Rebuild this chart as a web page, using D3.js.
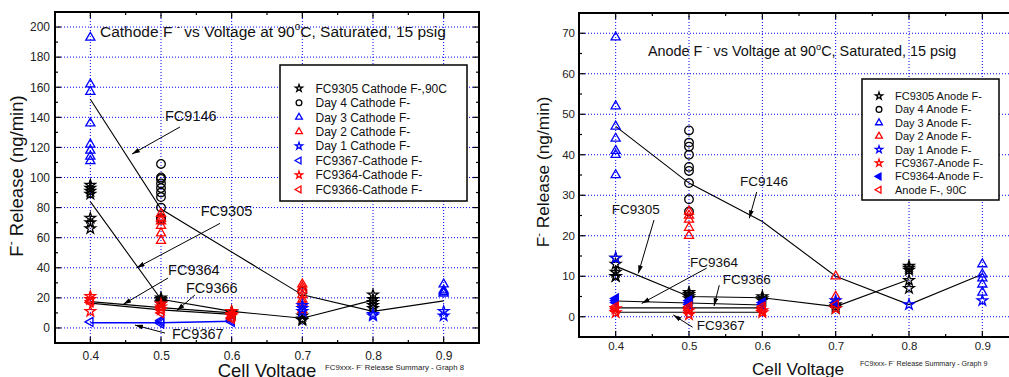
<!DOCTYPE html>
<html>
<head>
<meta charset="utf-8">
<script src="https://cdn.jsdelivr.net/npm/d3@7"></script>
<style>
  body { margin: 0; background: #fff; }
  svg { display: block; font-family: "Liberation Sans", Arial, sans-serif; }
</style>
</head>
<body>
<svg id="chart" width="1009" height="377"></svg>
<script>
// ---------- shared axis values ----------
const voltageTicks = [0.4, 0.5, 0.6, 0.7, 0.8, 0.9];
const cathodeYTicks = [0, 20, 40, 60, 80, 100, 120, 140, 160, 180, 200];
const anodeYTicks = [0, 10, 20, 30, 40, 50, 60, 70];

// ---------- cathode F- release, [cell voltage, ng/min] ----------
const cathodeFC9305 = [[0.4, 95], [0.4, 93], [0.4, 91], [0.4, 89], [0.4, 73], [0.4, 70], [0.4, 66],
  [0.5, 20], [0.5, 19], [0.5, 18], [0.5, 17], [0.5, 16],
  [0.6, 11], [0.6, 10], [0.6, 9],
  [0.7, 8], [0.7, 6], [0.7, 5],
  [0.8, 22], [0.8, 19], [0.8, 17], [0.8, 15], [0.8, 13]];
const cathodeDay4 = [[0.5, 109], [0.5, 100], [0.5, 99], [0.5, 96], [0.5, 93], [0.5, 90], [0.5, 87],
  [0.5, 80], [0.5, 73], [0.5, 72], [0.7, 24]];
const cathodeDay3 = [[0.4, 193], [0.4, 162], [0.4, 157], [0.4, 136], [0.4, 122], [0.4, 118], [0.4, 114],
  [0.4, 111], [0.9, 29], [0.9, 25], [0.9, 24], [0.9, 23]];
const cathodeDay2 = [[0.5, 76], [0.5, 73], [0.5, 71], [0.5, 68], [0.5, 63], [0.5, 58],
  [0.7, 29], [0.7, 27], [0.7, 25], [0.7, 22], [0.7, 19], [0.7, 17], [0.7, 12]];
const cathodeDay1 = [[0.7, 15], [0.7, 13], [0.7, 11], [0.8, 9], [0.8, 8], [0.9, 11], [0.9, 8]];
const cathodeFC9367 = [[0.4, 4], [0.5, 5], [0.5, 4], [0.5, 3], [0.6, 6], [0.6, 5], [0.6, 4]];
const cathodeFC9364 = [[0.4, 21], [0.4, 19], [0.4, 11], [0.5, 16], [0.5, 14], [0.5, 12],
  [0.6, 11], [0.6, 9], [0.6, 8]];
const cathodeFC9366 = [[0.4, 18], [0.4, 17], [0.5, 14], [0.5, 12], [0.5, 10], [0.6, 9], [0.6, 7], [0.6, 6]];

// cathode trend lines
const cathodeTrendFC9146 = [[0.4, 152], [0.5, 79], [0.7, 22], [0.8, 11], [0.9, 18]];
const cathodeTrendFC9305 = [[0.4, 84], [0.5, 19], [0.6, 11], [0.7, 6.5], [0.8, 18.5]];
const cathodeTrendFC9364 = [[0.4, 17.5], [0.5, 13.5], [0.6, 10]];
const cathodeTrendFC9366 = [[0.4, 16.5], [0.5, 12], [0.6, 9]];
const cathodeTrendFC9367 = [[0.4, 3.5], [0.5, 3.5], [0.6, 4.5]];

// ---------- anode F- release, [cell voltage, ng/min] ----------
const anodeFC9305 = [[0.4, 14.5], [0.4, 13], [0.4, 11], [0.4, 10], [0.4, 10],
  [0.5, 6], [0.5, 5.5], [0.5, 5], [0.5, 4.5],
  [0.6, 5], [0.6, 4.5], [0.6, 4],
  [0.7, 3], [0.7, 2.5], [0.7, 2],
  [0.8, 12.5], [0.8, 12], [0.8, 11.5], [0.8, 9], [0.8, 7]];
const anodeDay4 = [[0.5, 46], [0.5, 43], [0.5, 42], [0.5, 40], [0.5, 37], [0.5, 36], [0.5, 33],
  [0.5, 29], [0.5, 26]];
const anodeDay3 = [[0.4, 69], [0.4, 52], [0.4, 47], [0.4, 44], [0.4, 41], [0.4, 40], [0.4, 35],
  [0.9, 13], [0.9, 10.5], [0.9, 9.5], [0.9, 8], [0.9, 6]];
const anodeDay2 = [[0.5, 26], [0.5, 25], [0.5, 24], [0.5, 22], [0.5, 20], [0.7, 10], [0.7, 5]];
const anodeDay1 = [[0.4, 14.5], [0.7, 4], [0.8, 3], [0.9, 4]];
const anodeFC9367 = [[0.4, 2], [0.4, 1], [0.5, 1.5], [0.5, 0.5], [0.6, 1.5], [0.6, 1], [0.7, 2]];
const anodeFC9364 = [[0.4, 4.5], [0.4, 4], [0.4, 3.5], [0.5, 4], [0.5, 3.5], [0.5, 3],
  [0.6, 3.5], [0.6, 3], [0.7, 3.5]];
const anodeFC90C = [[0.4, 2.5], [0.4, 2], [0.4, 1.5], [0.5, 2.5], [0.5, 2], [0.5, 1.5],
  [0.6, 2.5], [0.6, 2], [0.6, 1.5], [0.7, 3]];

// anode trend lines
const anodeTrendFC9146 = [[0.4, 47], [0.5, 33], [0.6, 23.5], [0.7, 10], [0.8, 3], [0.9, 10.5]];
const anodeTrendFC9305 = [[0.4, 12.5], [0.5, 5], [0.6, 4.7], [0.7, 2.5], [0.8, 9.2]];
const anodeTrendFC9364 = [[0.4, 3.9], [0.5, 3.4], [0.6, 2.9]];
const anodeTrendFC9366 = [[0.4, 2.2], [0.5, 2.2], [0.6, 2.2]];
const anodeTrendFC9367 = [[0.4, 1.1], [0.5, 1.1], [0.6, 1.1]];

// ---------- drawing ----------
const BLUE = "#0000ff", RED = "#ff0000", BLACK = "#000000";

// triangle pointing left, same proportions as d3.symbolTriangle
const symbolTriangleLeft = {
  draw(ctx, size) {
    const h = Math.sqrt(size / (Math.sqrt(3) * 3));
    ctx.moveTo(-2 * h, 0);
    ctx.lineTo(h, -Math.sqrt(3) * h);
    ctx.lineTo(h, Math.sqrt(3) * h);
    ctx.closePath();
  }
};
const shapes = {
  star: { type: d3.symbolStar, size: 34, legendSize: 16 },
  circle: { type: d3.symbolCircle, size: 58, legendSize: 26 },
  triangle: { type: d3.symbolTriangle, size: 36, legendSize: 20 },
  triLeft: { type: symbolTriangleLeft, size: 36, legendSize: 20 }
};

const svg = d3.select("#chart");
const defs = svg.append("defs");
defs.append("marker")
  .attr("id", "arrow")
  .attr("viewBox", "0 0 10 6")
  .attr("refX", 10).attr("refY", 3)
  .attr("markerWidth", 8).attr("markerHeight", 5)
  .attr("markerUnits", "userSpaceOnUse")
  .attr("orient", "auto")
  .append("path").attr("d", "M0,0L10,3L0,6Z").attr("fill", BLACK);

// writes text made of plain and superscript segments
function richText(sel, parts, fontSize) {
  let raised = 0;
  parts.forEach(p => {
    const span = sel.append("tspan");
    if (p.sup) {
      const lift = fontSize * 0.42;
      span.attr("font-size", fontSize * 0.65).attr("dy", -lift + raised).text(p.sup);
      raised = lift;
    } else {
      if (raised) span.attr("dy", raised);
      raised = 0;
      span.text(p.t);
    }
  });
}

function drawPanel(cfg) {
  const g = svg.append("g");
  const x = d3.scaleLinear().domain(cfg.xDomain).range([cfg.left, cfg.right]);
  const y = d3.scaleLinear().domain(cfg.yDomain).range([cfg.bottom, cfg.top]);

  // dotted grid
  const grid = g.append("g").attr("stroke", BLUE).attr("stroke-width", 1).attr("stroke-dasharray", "1,2");
  voltageTicks.forEach(v => grid.append("line")
    .attr("x1", x(v)).attr("x2", x(v)).attr("y1", cfg.top).attr("y2", cfg.bottom));
  cfg.yTicks.forEach(v => grid.append("line")
    .attr("y1", y(v)).attr("y2", y(v)).attr("x1", cfg.left).attr("x2", cfg.right));

  // trend lines
  const line = d3.line().x(d => x(d[0])).y(d => y(d[1]));
  cfg.trends.forEach(t => g.append("path")
    .attr("d", line(t.data)).attr("fill", "none")
    .attr("stroke", t.color).attr("stroke-width", t.width));

  // measured points
  cfg.series.forEach(s => {
    const sym = d3.symbol().type(shapes[s.shape].type).size(shapes[s.shape].size);
    g.append("g").selectAll("path").data(s.data).join("path")
      .attr("transform", d => `translate(${x(d[0])},${y(d[1])})`)
      .attr("d", sym)
      .attr("fill", s.filled ? s.color : "none")
      .attr("stroke", s.color).attr("stroke-width", 1.3);
  });

  // legend
  const L = cfg.legend;
  const lg = g.append("g");
  lg.append("rect").attr("x", L.x).attr("y", L.y).attr("width", L.w).attr("height", L.h)
    .attr("fill", "#fff").attr("stroke", BLACK).attr("stroke-width", 1.5);
  cfg.series.forEach((s, i) => {
    const cy = L.firstRow + i * L.rowStep;
    const sym = d3.symbol().type(shapes[s.shape].type).size(shapes[s.shape].legendSize);
    lg.append("path").attr("transform", `translate(${L.symX},${cy})`).attr("d", sym)
      .attr("fill", s.filled ? s.color : "none").attr("stroke", s.color).attr("stroke-width", 1.3);
    lg.append("text").attr("x", L.textX).attr("y", cy).attr("dy", "0.36em")
      .attr("font-size", L.fontSize).attr("fill", "#111").text(s.label);
  });

  // annotations with arrows
  cfg.notes.forEach(n => {
    g.append("text").attr("x", x(n.at[0])).attr("y", y(n.at[1]))
      .attr("font-size", cfg.noteFont).attr("fill", "#111").text(n.text);
    g.append("line")
      .attr("x1", x(n.from[0])).attr("y1", y(n.from[1]))
      .attr("x2", x(n.to[0])).attr("y2", y(n.to[1]))
      .attr("stroke", BLACK).attr("stroke-width", 1).attr("marker-end", "url(#arrow)");
  });

  // inward ticks on all four sides
  const xMinor = d3.range(cfg.xDomain[0], cfg.xDomain[1] + 1e-9, 0.1);
  const yMinor = d3.range(cfg.yTicks[0] - cfg.yMinorStep, cfg.yDomain[1] + 1e-9, cfg.yTicks[1] - cfg.yTicks[0]);
  const ticks = g.append("g").attr("stroke", BLACK).attr("stroke-width", 1.2);
  const addX = (vals, len) => vals.forEach(v => {
    ticks.append("line").attr("x1", x(v)).attr("x2", x(v)).attr("y1", cfg.bottom).attr("y2", cfg.bottom - len);
    ticks.append("line").attr("x1", x(v)).attr("x2", x(v)).attr("y1", cfg.top).attr("y2", cfg.top + len);
  });
  const addY = (vals, len) => vals.forEach(v => {
    if (v < cfg.yDomain[0] || v > cfg.yDomain[1]) return;
    ticks.append("line").attr("y1", y(v)).attr("y2", y(v)).attr("x1", cfg.left).attr("x2", cfg.left + len);
    ticks.append("line").attr("y1", y(v)).attr("y2", y(v)).attr("x1", cfg.right).attr("x2", cfg.right - len);
  });
  addX(voltageTicks, 6); addX(xMinor, 3);
  addY(cfg.yTicks, 6); addY(yMinor, 3);

  // frame
  g.append("rect").attr("x", cfg.left).attr("y", cfg.top)
    .attr("width", cfg.right - cfg.left).attr("height", cfg.bottom - cfg.top)
    .attr("fill", "none").attr("stroke", BLACK).attr("stroke-width", 2);

  // tick labels
  const xAxis = g.append("g").attr("transform", `translate(0,${cfg.bottom})`)
    .call(d3.axisBottom(x).tickValues(voltageTicks).tickFormat(d3.format(".1f"))
      .tickSize(0).tickPadding(cfg.xLabelPad));
  const yAxis = g.append("g").attr("transform", `translate(${cfg.left},0)`)
    .call(d3.axisLeft(y).tickValues(cfg.yTicks).tickFormat(d3.format("d"))
      .tickSize(0).tickPadding(cfg.yLabelPad));
  [xAxis, yAxis].forEach(a => {
    a.select(".domain").remove();
    a.selectAll("text").attr("font-size", cfg.tickFont).attr("fill", "#222")
      .attr("font-family", '"Liberation Sans", Arial, sans-serif');
  });

  // titles
  const title = g.append("text").attr("x", cfg.titleX).attr("y", cfg.titleY)
    .attr("font-size", cfg.titleFont).attr("fill", "#111");
  richText(title, [{ t: cfg.titleName + " F " }, { sup: "-" }, { t: " vs Voltage at 90" }, { sup: "o" },
    { t: "C, Saturated, 15 psig" }], cfg.titleFont);

  g.append("text").attr("x", cfg.xTitleX).attr("y", cfg.xTitleY).attr("text-anchor", "middle")
    .attr("font-size", cfg.axisTitleFont).attr("fill", "#111").text("Cell Voltage");

  const yt = g.append("text").attr("text-anchor", "middle")
    .attr("transform", `translate(${cfg.yTitleX},${cfg.yTitleY}) rotate(-90)`)
    .attr("font-size", cfg.axisTitleFont).attr("fill", "#111");
  richText(yt, [{ t: "F" }, { sup: "-" }, { t: " Release (ng/min)" }], cfg.axisTitleFont);

  const foot = g.append("text").attr("x", cfg.footX).attr("y", cfg.footY)
    .attr("font-size", cfg.footFont).attr("fill", "#222");
  richText(foot, [{ t: "FC9xxx- F" }, { sup: "-" }, { t: " Release Summary - " + cfg.footGraph }], cfg.footFont);
}

// cathode panel
drawPanel({
  left: 55, right: 479, top: 12, bottom: 343,
  xDomain: [0.35, 0.95], yDomain: [-10, 210],
  yTicks: cathodeYTicks, yMinorStep: 10,
  tickFont: 12, xLabelPad: 8.6, yLabelPad: 5,
  titleName: "Cathode", titleX: 100, titleY: 36.5, titleFont: 15.5,
  axisTitleFont: 18.5, xTitleX: 267, xTitleY: 376.5, yTitleX: 23, yTitleY: 176,
  footX: 325, footY: 370, footFont: 7.8, footGraph: "Graph 8",
  noteFont: 14.5,
  series: [
    { label: "FC9305 Cathode F-,90C", data: cathodeFC9305, shape: "star", color: BLACK },
    { label: "Day 4 Cathode F-", data: cathodeDay4, shape: "circle", color: BLACK },
    { label: "Day 3 Cathode F-", data: cathodeDay3, shape: "triangle", color: BLUE },
    { label: "Day 2 Cathode F-", data: cathodeDay2, shape: "triangle", color: RED },
    { label: "Day 1 Cathode F-", data: cathodeDay1, shape: "star", color: BLUE },
    { label: "FC9367-Cathode F-", data: cathodeFC9367, shape: "triLeft", color: BLUE },
    { label: "FC9364-Cathode F-", data: cathodeFC9364, shape: "star", color: RED },
    { label: "FC9366-Cathode F-", data: cathodeFC9366, shape: "triLeft", color: RED }
  ],
  trends: [
    { data: cathodeTrendFC9146, color: BLACK, width: 1.1 },
    { data: cathodeTrendFC9305, color: BLACK, width: 1.1 },
    { data: cathodeTrendFC9364, color: BLACK, width: 1.1 },
    { data: cathodeTrendFC9366, color: BLACK, width: 1.1 },
    { data: cathodeTrendFC9367, color: BLUE, width: 1.6 }
  ],
  notes: [
    { text: "FC9146", at: [0.5057, 137.5], from: [0.5269, 133.6], to: [0.459, 115.6] },
    { text: "FC9305", at: [0.5562, 74.4], from: [0.5835, 69.5], to: [0.4656, 40] },
    { text: "FC9364", at: [0.51, 35.2], from: [0.51, 33.2], to: [0.4466, 15.7] },
    { text: "FC9366", at: [0.5354, 23.2], from: [0.548, 21.9], to: [0.5222, 11.5] },
    { text: "FC9367", at: [0.5156, -7.4], from: [0.5057, -3.4], to: [0.4632, 1.9] }
  ],
  legend: { x: 280, y: 65, w: 187, h: 136, firstRow: 88.3, rowStep: 14.45, symX: 299, textX: 315.5, fontSize: 12 }
});

// anode panel
drawPanel({
  left: 579, right: 1019, top: 13, bottom: 337,
  xDomain: [0.35, 0.95], yDomain: [-5, 75],
  yTicks: anodeYTicks, yMinorStep: 5,
  tickFont: 11.5, xLabelPad: 5.2, yLabelPad: 4,
  titleName: "Anode", titleX: 648, titleY: 56, titleFont: 14.4,
  axisTitleFont: 17.3, xTitleX: 798, xTitleY: 374.5, yTitleX: 549, yTitleY: 172,
  footX: 860, footY: 365.7, footFont: 7.15, footGraph: "Graph 9",
  noteFont: 13.5,
  series: [
    { label: "FC9305  Anode F-", data: anodeFC9305, shape: "star", color: BLACK },
    { label: "Day 4 Anode F-", data: anodeDay4, shape: "circle", color: BLACK },
    { label: "Day 3 Anode F-", data: anodeDay3, shape: "triangle", color: BLUE },
    { label: "Day 2 Anode F-", data: anodeDay2, shape: "triangle", color: RED },
    { label: "Day 1 Anode F-", data: anodeDay1, shape: "star", color: BLUE },
    { label: "FC9367-Anode F-", data: anodeFC9367, shape: "star", color: RED },
    { label: "FC9364-Anode F-", data: anodeFC9364, shape: "triLeft", color: BLUE, filled: true },
    { label: "Anode F-, 90C", data: anodeFC90C, shape: "triLeft", color: RED }
  ],
  trends: [
    { data: anodeTrendFC9146, color: BLACK, width: 1.1 },
    { data: anodeTrendFC9305, color: BLACK, width: 1.1 },
    { data: anodeTrendFC9364, color: BLACK, width: 1.1 },
    { data: anodeTrendFC9366, color: BLACK, width: 1.1 },
    { data: anodeTrendFC9367, color: BLACK, width: 1.1 }
  ],
  notes: [
    { text: "FC9146", at: [0.5696, 32.3], from: [0.5923, 30.8], to: [0.5822, 24.3] },
    { text: "FC9305", at: [0.3946, 25.4], from: [0.4523, 23.9], to: [0.4309, 10.7] },
    { text: "FC9364", at: [0.5014, 12.3], from: [0.5241, 12], to: [0.4355, 3.3] },
    { text: "FC9366", at: [0.546, 8.1], from: [0.5413, 7.8], to: [0.5341, 2.65] },
    { text: "FC9367", at: [0.5105, -3.3], from: [0.505, -2.6], to: [0.4786, 0.43] }
  ],
  legend: { x: 862, y: 79, w: 137, h: 121, firstRow: 96, rowStep: 13.4, symX: 879, textX: 895, fontSize: 11 }
});
</script>
</body>
</html>
